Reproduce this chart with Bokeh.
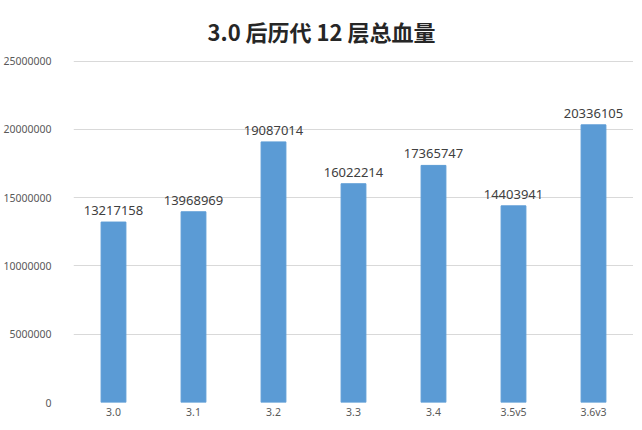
from bokeh.plotting import figure
from bokeh.models import FixedTicker, BasicTickFormatter, ColumnDataSource, LabelSet, Range1d
from bokeh.core.properties import value
from bokeh.embed import file_html
from bokeh.resources import INLINE

# data
chart_title = "3.0 后历代 12 层总血量"
versions = ["3.0", "3.1", "3.2", "3.3", "3.4", "3.5v5", "3.6v3"]
total_hp = [13217158, 13968969, 19087014, 16022214, 17365747, 14403941, 20336105]
y_ticks = [0, 5000000, 10000000, 15000000, 20000000, 25000000]

src = ColumnDataSource(data=dict(x=versions, top=total_hp, label=[str(v) for v in total_hp]))

p = figure(x_range=versions, y_range=Range1d(0, 25050000), width=633, height=421,
           output_backend="svg", toolbar_location=None,
           min_border_left=66, min_border_right=0, min_border_top=60, min_border_bottom=17)
p.x_range.range_padding = 0

p.title.text = chart_title
p.title.align = "left"
p.title.offset = 134
p.title.vertical_align = "top"
p.title.standoff = 23
p.title.text_font = "Noto Sans CJK SC"
p.title.text_font_size = "22px"
p.title.text_font_style = "bold"
p.title.text_color = "#262626"

p.vbar(x="x", top="top", width=0.31, color="#5B9BD5", source=src)

labels = LabelSet(x="x", y="top", text="label", source=src, text_align="center",
                  text_baseline="bottom", y_offset=7, text_font=value("Noto Sans"),
                  text_font_size=value("13px"), text_color="#404040")
p.add_layout(labels)

p.outline_line_color = None
p.xgrid.grid_line_color = None
p.ygrid.grid_line_color = "#d9d9d9"
p.ygrid.grid_line_width = 1

p.yaxis.ticker = FixedTicker(ticks=y_ticks)
p.yaxis.formatter = BasicTickFormatter(use_scientific=False)
for ax in [p.xaxis[0], p.yaxis[0]]:
    ax.axis_line_color = None
    ax.major_tick_line_color = None
    ax.minor_tick_line_color = None
    ax.major_tick_out = 0
    ax.major_tick_in = 0
    ax.minor_tick_out = 0
    ax.minor_tick_in = 0
    ax.major_label_text_font = "Noto Sans"
    ax.major_label_text_font_size = "10.5px"
    ax.major_label_text_color = "#595959"
p.yaxis.major_label_standoff = 22
p.xaxis.major_label_standoff = 2

open("out.html", "w").write(file_html(p, INLINE))
